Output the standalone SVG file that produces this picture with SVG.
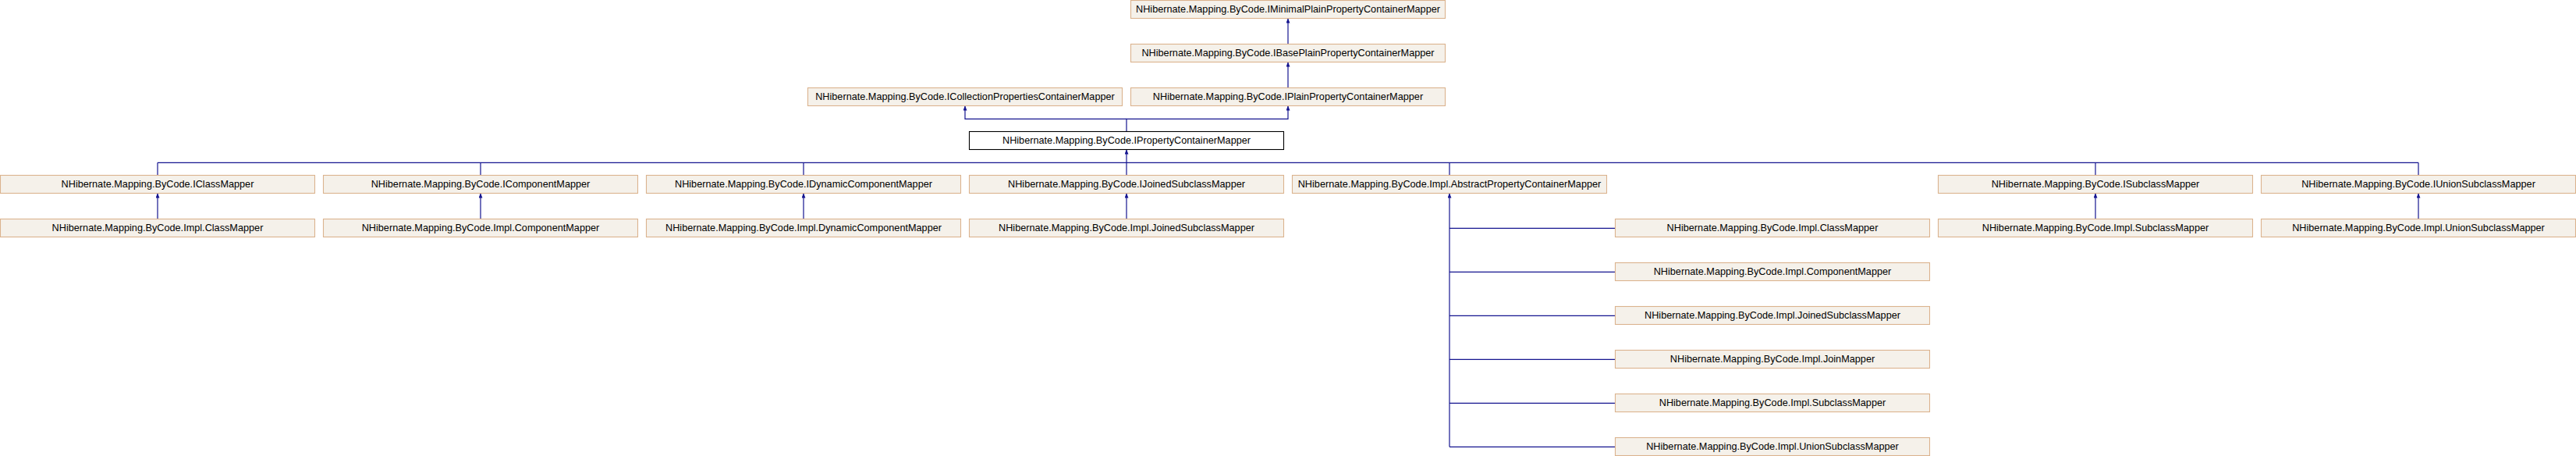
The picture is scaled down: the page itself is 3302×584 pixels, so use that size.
<svg xmlns="http://www.w3.org/2000/svg" width="3302" height="584" viewBox="0 0 3302 584">
<style>
.n rect{fill:#f5f1ea;stroke:#dbb38e;stroke-width:1.1}
.n.root rect{fill:#ffffff;stroke:#000000}
.n text{font-family:"Liberation Sans",Arial,sans-serif;font-size:12.7px;fill:#000;text-anchor:middle}
.e path{fill:none;stroke:#14148f;stroke-width:1.2;marker-end:url(#ah)}
.e path.nm{marker-end:none}
</style>
<defs>
<marker id="ah" viewBox="0 0 6 5" refX="6" refY="2.5" markerWidth="6" markerHeight="5" markerUnits="userSpaceOnUse" orient="auto">
<path d="M0,0 L6,2.5 L0,5 z" fill="#14148f"/>
</marker>
</defs>
<rect width="3302" height="584" fill="#ffffff"/>
<g id="edges" class="e">
<path d="M1651,56.5 V23.5"/>
<path d="M1651,112.5 V79.5"/>
<path d="M1444,168.5 V152.3 H1651 V135.5"/>
<path d="M1444,152.3 H1237 V135.5"/>
<path class="nm" d="M202,208.3 H3100"/>
<path class="nm" d="M202,224.5 V208.3"/>
<path class="nm" d="M616,224.5 V208.3"/>
<path class="nm" d="M1030,224.5 V208.3"/>
<path d="M1444,224.5 V191.5"/>
<path class="nm" d="M1858,224.5 V208.3"/>
<path class="nm" d="M2686,224.5 V208.3"/>
<path class="nm" d="M3100,224.5 V208.3"/>
<path d="M202,280.5 V247.5"/>
<path d="M616,280.5 V247.5"/>
<path d="M1030,280.5 V247.5"/>
<path d="M1444,280.5 V247.5"/>
<path d="M2686,280.5 V247.5"/>
<path d="M3100,280.5 V247.5"/>
<path d="M1858,572.3 V247.5"/>
<path class="nm" d="M1858,292.3 H2070.5"/>
<path class="nm" d="M1858,348.3 H2070.5"/>
<path class="nm" d="M1858,404.3 H2070.5"/>
<path class="nm" d="M1858,460.3 H2070.5"/>
<path class="nm" d="M1858,516.3 H2070.5"/>
<path class="nm" d="M1858,572.3 H2070.5"/>
</g>
<g id="n_IMinimal" class="n"><rect x="1449.5" y="0.5" width="403" height="23"/><text x="1651" y="16">NHibernate.Mapping.ByCode.IMinimalPlainPropertyContainerMapper</text></g>
<g id="n_IBasePlain" class="n"><rect x="1449.5" y="56.5" width="403" height="23"/><text x="1651" y="72">NHibernate.Mapping.ByCode.IBasePlainPropertyContainerMapper</text></g>
<g id="n_ICollection" class="n"><rect x="1035.5" y="112.5" width="403" height="23"/><text x="1237" y="128">NHibernate.Mapping.ByCode.ICollectionPropertiesContainerMapper</text></g>
<g id="n_IPlain" class="n"><rect x="1449.5" y="112.5" width="403" height="23"/><text x="1651" y="128">NHibernate.Mapping.ByCode.IPlainPropertyContainerMapper</text></g>
<g id="n_IProperty" class="n root"><rect x="1242.5" y="168.5" width="403" height="23"/><text x="1444" y="184">NHibernate.Mapping.ByCode.IPropertyContainerMapper</text></g>
<g id="n_IClassMapper" class="n"><rect x="0.5" y="224.5" width="403" height="23"/><text x="202" y="240">NHibernate.Mapping.ByCode.IClassMapper</text></g>
<g id="n_IComponentMapper" class="n"><rect x="414.5" y="224.5" width="403" height="23"/><text x="616" y="240">NHibernate.Mapping.ByCode.IComponentMapper</text></g>
<g id="n_IDynamicComponentMapper" class="n"><rect x="828.5" y="224.5" width="403" height="23"/><text x="1030" y="240">NHibernate.Mapping.ByCode.IDynamicComponentMapper</text></g>
<g id="n_IJoinedSubclassMapper" class="n"><rect x="1242.5" y="224.5" width="403" height="23"/><text x="1444" y="240">NHibernate.Mapping.ByCode.IJoinedSubclassMapper</text></g>
<g id="n_Abstract" class="n"><rect x="1656.5" y="224.5" width="403" height="23"/><text x="1858" y="240">NHibernate.Mapping.ByCode.Impl.AbstractPropertyContainerMapper</text></g>
<g id="n_ISubclassMapper" class="n"><rect x="2484.5" y="224.5" width="403" height="23"/><text x="2686" y="240">NHibernate.Mapping.ByCode.ISubclassMapper</text></g>
<g id="n_IUnionSubclassMapper" class="n"><rect x="2898.5" y="224.5" width="403" height="23"/><text x="3100" y="240">NHibernate.Mapping.ByCode.IUnionSubclassMapper</text></g>
<g id="n_ClassMapper_a" class="n"><rect x="0.5" y="280.5" width="403" height="23"/><text x="202" y="296">NHibernate.Mapping.ByCode.Impl.ClassMapper</text></g>
<g id="n_ComponentMapper_a" class="n"><rect x="414.5" y="280.5" width="403" height="23"/><text x="616" y="296">NHibernate.Mapping.ByCode.Impl.ComponentMapper</text></g>
<g id="n_DynamicComponentMapper" class="n"><rect x="828.5" y="280.5" width="403" height="23"/><text x="1030" y="296">NHibernate.Mapping.ByCode.Impl.DynamicComponentMapper</text></g>
<g id="n_JoinedSubclassMapper_a" class="n"><rect x="1242.5" y="280.5" width="403" height="23"/><text x="1444" y="296">NHibernate.Mapping.ByCode.Impl.JoinedSubclassMapper</text></g>
<g id="n_SubclassMapper_a" class="n"><rect x="2484.5" y="280.5" width="403" height="23"/><text x="2686" y="296">NHibernate.Mapping.ByCode.Impl.SubclassMapper</text></g>
<g id="n_UnionSubclassMapper_a" class="n"><rect x="2898.5" y="280.5" width="403" height="23"/><text x="3100" y="296">NHibernate.Mapping.ByCode.Impl.UnionSubclassMapper</text></g>
<g id="n_ClassMapper_b" class="n"><rect x="2070.5" y="280.5" width="403" height="23"/><text x="2272" y="296">NHibernate.Mapping.ByCode.Impl.ClassMapper</text></g>
<g id="n_ComponentMapper_b" class="n"><rect x="2070.5" y="336.5" width="403" height="23"/><text x="2272" y="352">NHibernate.Mapping.ByCode.Impl.ComponentMapper</text></g>
<g id="n_JoinedSubclassMapper_b" class="n"><rect x="2070.5" y="392.5" width="403" height="23"/><text x="2272" y="408">NHibernate.Mapping.ByCode.Impl.JoinedSubclassMapper</text></g>
<g id="n_JoinMapper" class="n"><rect x="2070.5" y="448.5" width="403" height="23"/><text x="2272" y="464">NHibernate.Mapping.ByCode.Impl.JoinMapper</text></g>
<g id="n_SubclassMapper_b" class="n"><rect x="2070.5" y="504.5" width="403" height="23"/><text x="2272" y="520">NHibernate.Mapping.ByCode.Impl.SubclassMapper</text></g>
<g id="n_UnionSubclassMapper_b" class="n"><rect x="2070.5" y="560.5" width="403" height="23"/><text x="2272" y="576">NHibernate.Mapping.ByCode.Impl.UnionSubclassMapper</text></g>
</svg>
